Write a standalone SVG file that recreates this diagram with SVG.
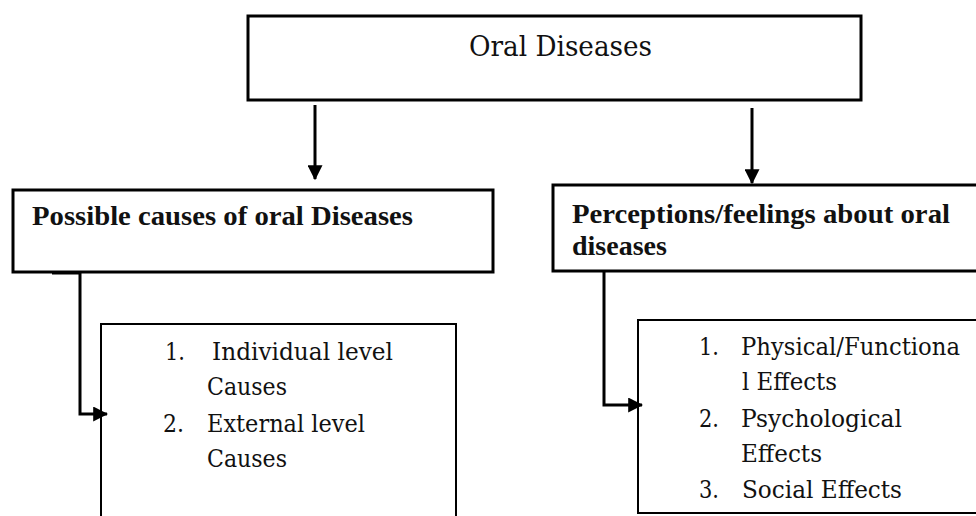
<svg xmlns="http://www.w3.org/2000/svg" width="976" height="516" viewBox="0 0 976 516">
<style>
.box{fill:#fff;stroke:#000;stroke-width:3}
.list{fill:#fff;stroke:#000;stroke-width:2}
.conn{fill:none;stroke:#000;stroke-width:3}
.t{fill:#111}
.title{font-family:"DejaVu Serif","Liberation Serif",serif;font-size:28px;font-weight:normal}
.hd{font-family:"Liberation Serif","DejaVu Serif",serif;font-size:28px;font-weight:bold}
.li{font-family:"DejaVu Serif","Liberation Serif",serif;font-size:24px;font-weight:normal}
</style>
<defs>
<marker id="ah" markerWidth="5" markerHeight="5" refX="4.6" refY="2.5" orient="auto" markerUnits="strokeWidth">
<path d="M0,0 L5,2.5 L0,5 Z" fill="#000"/>
</marker>
</defs>
<rect width="976" height="516" fill="#fff"/>
<g id="oral-diseases">
<rect class="box" x="248" y="16" width="613" height="84"/>
<text class="t title" x="469" y="56" textLength="183" lengthAdjust="spacingAndGlyphs">Oral Diseases</text>
</g>
<g id="possible-causes">
<rect class="box" x="13" y="190" width="480" height="82"/>
<text class="t hd" x="32" y="225" textLength="381" lengthAdjust="spacingAndGlyphs">Possible causes of oral Diseases</text>
</g>
<g id="perceptions">
<path class="box" d="M976,185 H553 V271 H976"/>
<text class="t hd" x="572" y="223" textLength="378" lengthAdjust="spacingAndGlyphs">Perceptions/feelings about oral</text>
<text class="t hd" x="572" y="255">diseases</text>
</g>
<g id="causes-list">
<path class="list" d="M101,516 V324 H456 V516"/>
<text class="t li" x="165" y="360" textLength="20" lengthAdjust="spacingAndGlyphs">1.</text>
<text class="t li" x="212" y="360" textLength="181" lengthAdjust="spacingAndGlyphs">Individual level</text>
<text class="t li" x="207" y="395" textLength="80" lengthAdjust="spacingAndGlyphs">Causes</text>
<text class="t li" x="163" y="432" textLength="21" lengthAdjust="spacingAndGlyphs">2.</text>
<text class="t li" x="207" y="432" textLength="158" lengthAdjust="spacingAndGlyphs">External level</text>
<text class="t li" x="207" y="467" textLength="80" lengthAdjust="spacingAndGlyphs">Causes</text>
</g>
<g id="effects-list">
<path class="list" d="M976,320 H638 V513 H976"/>
<text class="t li" x="699" y="355" textLength="20" lengthAdjust="spacingAndGlyphs">1.</text>
<text class="t li" x="741" y="355" textLength="219" lengthAdjust="spacingAndGlyphs">Physical/Functiona</text>
<text class="t li" x="742" y="390" textLength="95" lengthAdjust="spacingAndGlyphs">l Effects</text>
<text class="t li" x="699" y="427" textLength="20" lengthAdjust="spacingAndGlyphs">2.</text>
<text class="t li" x="741" y="427" textLength="161" lengthAdjust="spacingAndGlyphs">Psychological</text>
<text class="t li" x="741" y="462" textLength="81" lengthAdjust="spacingAndGlyphs">Effects</text>
<text class="t li" x="699" y="498" textLength="20" lengthAdjust="spacingAndGlyphs">3.</text>
<text class="t li" x="742" y="498" textLength="160" lengthAdjust="spacingAndGlyphs">Social Effects</text>
</g>
<g id="connectors">
<path class="conn" d="M315,105 V179" marker-end="url(#ah)"/>
<path class="conn" d="M752,108 V183" marker-end="url(#ah)"/>
<path class="conn" d="M52,273 H80 V414 H107" marker-end="url(#ah)"/>
<path class="conn" d="M604,272 V405 H642" marker-end="url(#ah)"/>
</g>
</svg>
